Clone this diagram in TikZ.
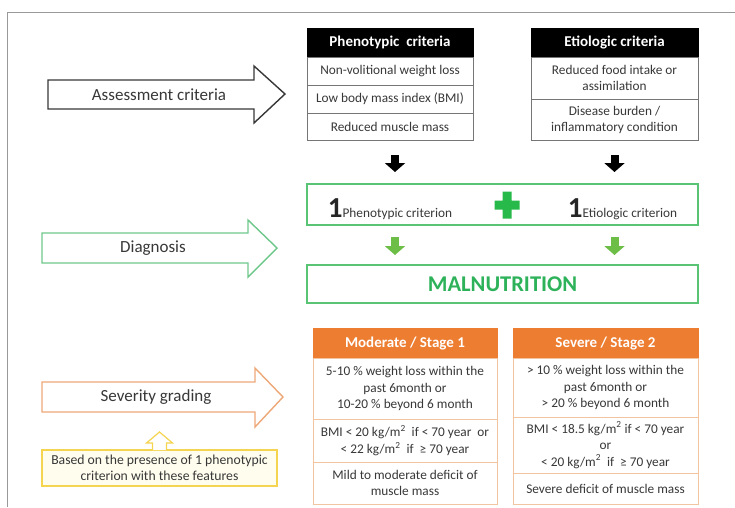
\documentclass[tikz,border=0pt]{standalone}
\usepackage{fontspec}
\setmainfont{Carlito}
\usetikzlibrary{arrows.meta,positioning}
\definecolor{critgray}{RGB}{118,118,118}
\definecolor{textgray}{RGB}{56,56,56}
\definecolor{diaggreen}{RGB}{88,196,116}
\definecolor{plusgreen}{RGB}{40,185,75}
\definecolor{arrgreen}{RGB}{108,190,70}
\definecolor{malgreen}{RGB}{45,178,90}
\definecolor{gradorange}{RGB}{237,125,49}
\definecolor{gradline}{RGB}{243,196,160}
\definecolor{sevline}{RGB}{238,168,120}
\definecolor{diagline}{RGB}{110,200,140}
\definecolor{basisline}{RGB}{245,212,80}
\definecolor{basisfill}{RGB}{255,253,238}
\tikzset{
  crit/.style={rectangle, draw=critgray, line width=0.8pt, fill=white, inner sep=1pt,
               outer sep=0pt, align=center, text=textgray, font=\fontsize{13.3}{16}\selectfont},
  crithead/.style={crit, fill=black, draw=black, text=white,
                   font=\fontsize{15}{18}\selectfont\bfseries, minimum height=29pt},
  grade/.style={crit, draw=gradline, font=\fontsize{13.3}{16.5}\selectfont},
  gradehead/.style={grade, fill=gradorange, draw=gradorange, text=white,
                    font=\fontsize{15}{18}\selectfont\bfseries, minimum height=30pt},
  diag/.style={rectangle, draw=diaggreen, line width=2pt, outer sep=0pt, minimum width=391pt},
  lblarrow/.style={line width=1.4pt, line join=miter, fill=white},
  lbl/.style={text=textgray, font=\fontsize{17}{20}\selectfont},
  downblk/.style={line width=8pt, -{Triangle[width=20pt,length=9pt]}},
  basis/.style={rectangle, draw=basisline, fill=basisfill, line width=1.2pt, align=center,
                text=textgray, font=\fontsize{13.7}{16}\selectfont,
                minimum width=235pt, minimum height=36pt, outer sep=0pt},
}
\begin{document}
\begin{tikzpicture}[x=1pt, y=-1pt]
  \useasboundingbox (0,0) rectangle (735,507);
  \draw[black!40, line width=1pt] (7,507) -- (7,12) -- (735,12);
  % criteria tables
  \node[crithead, minimum width=166pt] (ph) at (390,42.5) {Phenotypic\ \ criteria};
  \node[crit, minimum width=166pt, minimum height=28pt, below=0pt of ph] (p1) {Non-volitional weight loss};
  \node[crit, minimum width=166pt, minimum height=28pt, below=0pt of p1] (p2) {Low body mass index (BMI)};
  \node[crit, minimum width=166pt, minimum height=27pt, below=0pt of p2] (p3) {Reduced muscle mass};
  \node[crithead, minimum width=167pt] (eh) at (614.5,42.5) {Etiologic criteria};
  \node[crit, minimum width=167pt, minimum height=42pt, below=0pt of eh] (e1) {Reduced food intake or\\assimilation};
  \node[crit, minimum width=167pt, minimum height=41pt, below=0pt of e1] (e2) {Disease burden /\\inflammatory condition};
  % diagnosis
  \node[diag, minimum height=41pt] (crit) at (502.5,204.5) {};
  \node[anchor=base, text=textgray, font=\fontsize{13.3}{16}\selectfont] (c1) at (390,217)
    {{\color{black!85}\fontsize{29}{29}\selectfont\bfseries 1}Phenotypic criterion};
  \node[anchor=base, text=textgray, font=\fontsize{13.3}{16}\selectfont] (c2) at (622.5,217)
    {{\color{black!85}\fontsize{29}{29}\selectfont\bfseries 1}Etiologic criterion};
  \coordinate (plus) at (507,205);
  \fill[plusgreen] (plus) +(-12.5,-4.5) rectangle +(12.5,4.5)
                   (plus) +(-4.5,-13.5) rectangle +(4.5,13.5);
  \node[diag, minimum height=38pt, text=malgreen, font=\fontsize{22.5}{24}\selectfont\bfseries]
    (maln) at (502.5,284) {MALNUTRITION};
  \coordinate (lcol) at (395,0);
  \coordinate (rcol) at (614.5,0);
  \draw[downblk, shorten <=15pt, shorten >=12pt] (lcol |- p3.south) -- (lcol |- crit.north);
  \draw[downblk, shorten <=15pt, shorten >=12pt] (rcol |- e2.south) -- (rcol |- crit.north);
  \draw[downblk, arrgreen, shorten <=12pt, shorten >=10pt] (lcol |- crit.south) -- (lcol |- maln.north);
  \draw[downblk, arrgreen, shorten <=12pt, shorten >=10pt] (rcol |- crit.south) -- (rcol |- maln.north);
  % severity grading
  \node[gradehead, minimum width=184pt] (mh) at (405,343) {Moderate / Stage 1};
  \node[grade, minimum width=184pt, minimum height=61pt, below=0pt of mh] (m1)
    {5-10 \% weight loss within the\\past 6month or\\10-20 \% beyond 6 month};
  \node[grade, minimum width=184pt, minimum height=43pt, below=0pt of m1] (m2)
    {BMI < 20 kg/m\textsuperscript{2}\ \ if < 70 year\ \ or\\< 22 kg/m\textsuperscript{2}\ \ if\ \ ≥ 70 year};
  \node[grade, minimum width=184pt, minimum height=42pt, below=0pt of m2] (m3)
    {Mild to moderate deficit of\\muscle mass};
  \node[gradehead, minimum width=185pt] (sh) at (605.5,343) {Severe / Stage 2};
  \node[grade, minimum width=185pt, minimum height=59pt, below=0pt of sh] (s1)
    {> 10 \% weight loss within the\\past 6month or\\> 20 \% beyond 6 month};
  \node[grade, minimum width=185pt, minimum height=56pt, below=0pt of s1] (s2)
    {BMI < 18.5 kg/m\textsuperscript{2} if < 70 year\\or\\< 20 kg/m\textsuperscript{2}\ \ if\ \ ≥ 70 year};
  \node[grade, minimum width=185pt, minimum height=31pt, below=0pt of s2] (s3)
    {Severe deficit of muscle mass};
  % left labels
  \draw[lblarrow, draw=textgray] (48,80) -- (254,80) -- (254,66) -- (285,94)
    -- (254,123) -- (254,109) -- (48,109) -- cycle;
  \node[lbl] (assess) at (159,94.5) {Assessment criteria};
  \draw[lblarrow, draw=diagline] (42,233) -- (248,233) -- (248,220) -- (277,248)
    -- (248,277) -- (248,263) -- (42,263) -- cycle;
  \node[lbl] (diagn) at (153,248) {Diagnosis};
  \draw[lblarrow, draw=sevline] (42,382) -- (255,382) -- (255,368) -- (283,397)
    -- (255,427) -- (255,412) -- (42,412) -- cycle;
  \node[lbl] (sever) at (156,397) {Severity grading};
  \node[basis] (basis) at (159.5,468)
    {Based on the presence of 1 phenotypic\\criterion with these features};
  \draw[basisline, line width=1.2pt, fill=white] ([xshift=-7pt]basis.north) -- ++(0,-7)
    -- ++(-6,0) -- ++(13,-11) -- ++(13,11) -- ++(-6,0) -- ++(0,7);
\end{tikzpicture}
\end{document}
